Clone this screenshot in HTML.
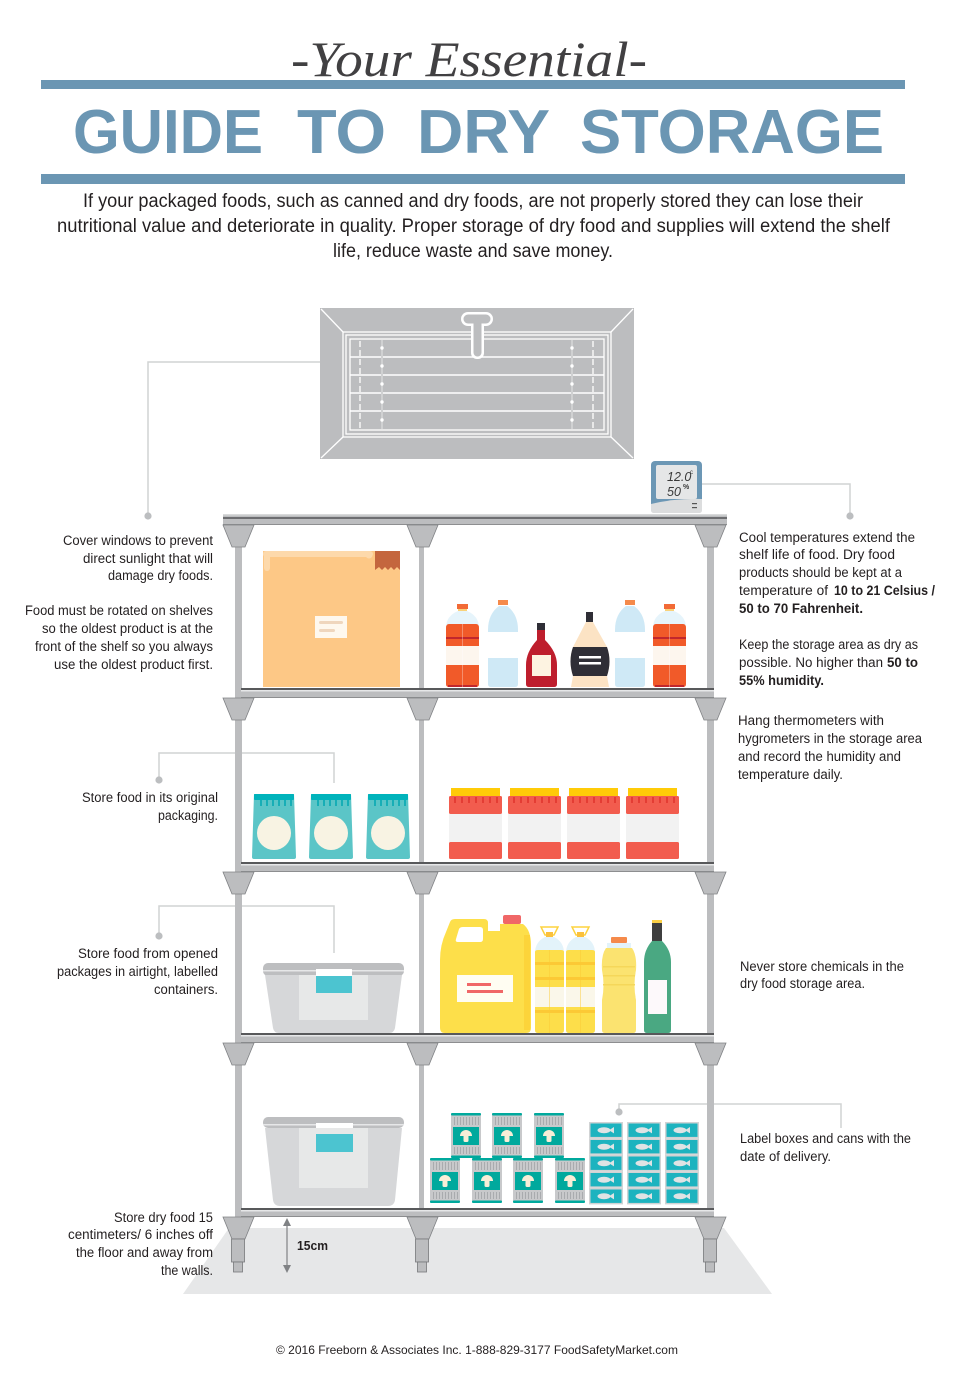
<!DOCTYPE html>
<html><head><meta charset="utf-8">
<style>
html,body{margin:0;padding:0;background:#fff;}
svg{display:block;}
text{font-family:"Liberation Sans",sans-serif;}
</style></head><body>
<svg width="954" height="1386" viewBox="0 0 954 1386" xmlns="http://www.w3.org/2000/svg">
<defs>
 <polygon id="brk" points="0,0 31,0 22,22 9,22" fill="#bcbdbf" stroke="#808285" stroke-width="0.8"/>
 <g id="obottle">
  <rect x="11" y="0" width="11" height="5" fill="#f26a36"/>
  <rect x="12" y="5" width="9" height="2" fill="#f9d27a"/>
  <path d="M12 7 H21 Q33 12 33 24 V80 Q33 83 30 83 H3 Q0 83 0 80 V24 Q0 12 12 7 Z" fill="#e6f4fb"/>
  <path d="M0 24 Q0 20 3 20 H30 Q33 20 33 24 V34 H0 Z" fill="#f15a29"/>
  <rect x="0" y="33" width="33" height="2" fill="#c1272d"/>
  <rect x="0" y="35" width="33" height="7" fill="#f15a29"/>
  <rect x="0" y="42" width="33" height="19" fill="#fdf6ee"/>
  <path d="M0 61 H33 V80 Q33 83 30 83 H3 Q0 83 0 80 Z" fill="#f15a29"/>
  <rect x="2" y="81" width="29" height="2" fill="#c1272d"/>
  <rect x="16" y="20" width="0.8" height="63" fill="#fff" opacity="0.4"/>
 </g>
 <g id="wbottle">
  <rect x="10" y="0" width="10" height="5" fill="#f58a4b"/>
  <path d="M11 6 H19 Q30 14 30 30 V84 Q30 87 27 87 H3 Q0 87 0 84 V30 Q0 14 11 6 Z" fill="#cfe9f6"/>
  <rect x="0" y="32" width="30" height="26" fill="#ffffff"/>
 </g>
 <g id="bag">
  <path d="M2 0 H42 L44 63 Q44 65 42 65 H2 Q0 65 0 63 Z" fill="#5bc5c7"/>
  <rect x="2" y="0" width="40" height="6" rx="1" fill="#00b3bb"/>
  <g fill="#17aeb6"><rect x="8" y="6" width="2" height="6"/><rect x="14" y="6" width="2" height="6"/><rect x="20" y="6" width="2" height="6"/><rect x="26" y="6" width="2" height="6"/><rect x="32" y="6" width="2" height="6"/><rect x="38" y="6" width="2" height="6"/></g>
  <circle cx="22" cy="39" r="17" fill="#f8f3e3"/>
 </g>
 <g id="jar">
  <rect x="2" y="0" width="49" height="8" fill="#ffcb08"/>
  <rect x="0" y="8" width="53" height="18" rx="1.5" fill="#f25c4e"/>
  <g fill="#e43d34"><rect x="5" y="9" width="2" height="6"/><rect x="12" y="9" width="2" height="6"/><rect x="19" y="9" width="2" height="6"/><rect x="26" y="9" width="2" height="6"/><rect x="33" y="9" width="2" height="6"/><rect x="40" y="9" width="2" height="6"/><rect x="47" y="9" width="2" height="6"/></g>
  <rect x="0" y="26" width="53" height="28" fill="#f2f2f2"/>
  <rect x="0" y="54" width="53" height="17" rx="1.5" fill="#f25c4e"/>
 </g>
 <g id="can">
  <rect x="0" y="1" width="30" height="43" fill="#c8c9cb"/>
  <g fill="#a9abae"><rect x="3" y="4" width="1" height="8"/><rect x="6" y="4" width="1" height="8"/><rect x="9" y="4" width="1" height="8"/><rect x="12" y="4" width="1" height="8"/><rect x="15" y="4" width="1" height="8"/><rect x="18" y="4" width="1" height="8"/><rect x="21" y="4" width="1" height="8"/><rect x="24" y="4" width="1" height="8"/><rect x="27" y="4" width="1" height="8"/>
  <rect x="3" y="34" width="1" height="7"/><rect x="6" y="34" width="1" height="7"/><rect x="9" y="34" width="1" height="7"/><rect x="12" y="34" width="1" height="7"/><rect x="15" y="34" width="1" height="7"/><rect x="18" y="34" width="1" height="7"/><rect x="21" y="34" width="1" height="7"/><rect x="24" y="34" width="1" height="7"/><rect x="27" y="34" width="1" height="7"/></g>
  <rect x="0" y="0" width="30" height="2.5" rx="1" fill="#00a99d"/>
  <rect x="0" y="42.5" width="30" height="2.5" rx="1" fill="#00a99d"/>
  <rect x="2" y="14" width="26" height="18" fill="#00a99d"/>
  <path d="M9 23 A6 6 0 0 1 21 23 Z" fill="#f9eed7"/>
  <rect x="12.5" y="22" width="5" height="7" rx="1.5" fill="#f9eed7"/>
 </g>
 <g id="fish">
  <rect width="34" height="16.4" fill="#d1d3d4"/>
  <rect x="1.5" y="1.5" width="31" height="13.4" fill="#1db3bf"/>
  <ellipse cx="15" cy="8.2" rx="6.5" ry="3" fill="#dfe3e4"/>
  <polygon points="20,8.2 25,5 25,11.4" fill="#dfe3e4"/>
 </g>
 <g id="oil">
  <path d="M6 0 H23 L19 8 H10 Z" fill="none" stroke="#fdd33e" stroke-width="1.5"/>
  <rect x="11" y="5" width="7" height="5" fill="#fbc13b"/>
  <path d="M10 10 H19 Q29 15 29 26 V103 Q29 106 26 106 H3 Q0 106 0 103 V26 Q0 15 10 10 Z" fill="#e3f3fa"/>
  <path d="M0 25 Q0 23 3 23 H26 Q29 23 29 25 V103 Q29 106 26 106 H3 Q0 106 0 103 Z" fill="#fdde4a"/>
  <rect x="0" y="35" width="29" height="3" fill="#fcc935"/>
  <rect x="0" y="50" width="29" height="3" fill="#fcc935"/>
  <rect x="0" y="83" width="29" height="3" fill="#fcc935"/>
  <rect x="0" y="60" width="29" height="20" fill="#faf7ea"/>
  <rect x="14" y="23" width="0.8" height="83" fill="#fcc935" opacity="0.6"/>
 </g>
</defs>

<rect width="954" height="1386" fill="#fff"/>

<!-- HEADER -->
<rect x="41" y="80" width="864" height="9" fill="#6b96b3"/>
<rect x="41" y="174" width="864" height="10" fill="#6b96b3"/>
<text x="291" y="76" font-family="Liberation Serif, serif" style="font-family:'Liberation Serif',serif" font-style="italic" font-size="50" fill="#414042" textLength="356" lengthAdjust="spacingAndGlyphs">-Your Essential-</text>
<g font-weight="bold" font-size="62" fill="#6b96b3">
 <text x="73" y="153" textLength="190" lengthAdjust="spacingAndGlyphs">GUIDE</text>
 <text x="297" y="153" textLength="89" lengthAdjust="spacingAndGlyphs">TO</text>
 <text x="417" y="153" textLength="133" lengthAdjust="spacingAndGlyphs">DRY</text>
 <text x="580" y="153" textLength="304" lengthAdjust="spacingAndGlyphs">STORAGE</text>
</g>
<g font-size="19" fill="#231f20">
 <text x="83" y="207" textLength="780" lengthAdjust="spacingAndGlyphs">If your packaged foods, such as canned and dry foods, are not properly stored they can lose their</text>
 <text x="57" y="232" textLength="833" lengthAdjust="spacingAndGlyphs">nutritional value and deteriorate in quality.  Proper storage of dry food and supplies will extend the shelf</text>
 <text x="333" y="257" textLength="280" lengthAdjust="spacingAndGlyphs">life, reduce waste and save money.</text>
</g>

<!-- WINDOW -->
<rect x="320" y="308" width="314" height="151" fill="#bcbdbf"/>
<g stroke="#fff" fill="none" stroke-width="1.3">
 <rect x="343" y="332" width="268" height="105"/>
 <rect x="346" y="335" width="262" height="99"/>
 <line x1="321" y1="309" x2="343" y2="332"/>
 <line x1="633" y1="309" x2="611" y2="332"/>
 <line x1="321" y1="458" x2="343" y2="437"/>
 <line x1="633" y1="458" x2="611" y2="437"/>
 <rect x="350" y="339" width="254" height="91"/>
 <line x1="350" y1="357" x2="604" y2="357" stroke-width="1.6"/>
 <line x1="350" y1="375" x2="604" y2="375" stroke-width="1.6"/>
 <line x1="350" y1="393" x2="604" y2="393" stroke-width="1.6"/>
 <line x1="350" y1="411" x2="604" y2="411" stroke-width="1.6"/>
 <line x1="360" y1="341" x2="360" y2="429" stroke-dasharray="6 3"/>
 <line x1="593" y1="341" x2="593" y2="429" stroke-dasharray="6 3"/>
</g>
<g stroke="#d0d1d2" stroke-width="2"><line x1="382" y1="340" x2="382" y2="429"/><line x1="572" y1="340" x2="572" y2="429"/></g>
<g fill="#fff">
 <circle cx="382" cy="348" r="1.7"/><circle cx="382" cy="366" r="1.7"/><circle cx="382" cy="384" r="1.7"/><circle cx="382" cy="402" r="1.7"/><circle cx="382" cy="420" r="1.7"/>
 <circle cx="572" cy="348" r="1.7"/><circle cx="572" cy="366" r="1.7"/><circle cx="572" cy="384" r="1.7"/><circle cx="572" cy="402" r="1.7"/><circle cx="572" cy="420" r="1.7"/>
</g>
<rect x="461" y="312" width="32" height="14" rx="7" fill="#fff"/>
<rect x="471" y="316" width="13" height="43" rx="6" fill="#fff"/>
<rect x="463.5" y="314.5" width="27" height="9" rx="4.5" fill="#bcbdbf"/>
<rect x="473.5" y="318" width="8" height="38.5" rx="4" fill="#bcbdbf"/>

<!-- FLOOR -->
<polygon points="229,1228 724,1228 772,1294 183,1294" fill="#e6e7e8"/>

<!-- CONNECTORS -->
<g stroke="#d1d3d4" stroke-width="1.5" fill="none">
 <polyline points="320,362 148,362 148,516"/>
 <polyline points="702,484 850,484 850,516"/>
 <polyline points="159,780 159,753 334,753 334,783"/>
 <polyline points="159,936 159,906 334,906 334,953"/>
 <polyline points="619,1112 619,1104 841,1104 841,1128"/>
</g>
<g fill="#bcbec0">
 <circle cx="148" cy="516" r="3.6"/><circle cx="850" cy="516" r="3.6"/>
 <circle cx="159" cy="780" r="3.6"/><circle cx="159" cy="936" r="3.6"/>
 <circle cx="619" cy="1112" r="3.6"/>
</g>

<!-- POSTS -->
<rect x="235" y="520" width="7" height="720" fill="#bcbdbf"/>
<rect x="419" y="520" width="5" height="720" fill="#bcbdbf"/>
<rect x="707" y="520" width="7" height="720" fill="#bcbdbf"/>

<!-- BARS -->
<rect x="223" y="514" width="504" height="11" fill="#bcbdbf"/>
<rect x="223" y="514" width="504" height="1.5" fill="#d9dadb"/>
<rect x="223" y="517" width="504" height="2" fill="#6d6e71"/>
<rect x="223" y="524" width="504" height="1" fill="#8d8e90"/>
<g>
 <rect x="241" y="688" width="473" height="10" fill="#bcbdbf"/><rect x="241" y="688" width="473" height="2" fill="#58595b"/><rect x="241" y="690" width="473" height="1.5" fill="#e6e7e8"/><rect x="241" y="697" width="473" height="1" fill="#8d8e90"/>
 <rect x="241" y="862" width="473" height="10" fill="#bcbdbf"/><rect x="241" y="862" width="473" height="2" fill="#58595b"/><rect x="241" y="864" width="473" height="1.5" fill="#e6e7e8"/><rect x="241" y="871" width="473" height="1" fill="#8d8e90"/>
 <rect x="241" y="1033" width="473" height="10" fill="#bcbdbf"/><rect x="241" y="1033" width="473" height="2" fill="#58595b"/><rect x="241" y="1035" width="473" height="1.5" fill="#e6e7e8"/><rect x="241" y="1042" width="473" height="1" fill="#8d8e90"/>
 <rect x="241" y="1208" width="473" height="9" fill="#bcbdbf"/><rect x="241" y="1208" width="473" height="2" fill="#58595b"/><rect x="241" y="1210" width="473" height="1.5" fill="#e6e7e8"/><rect x="241" y="1216" width="473" height="1" fill="#8d8e90"/>
</g>

<!-- BRACKETS -->
<use href="#brk" x="223" y="525"/><use href="#brk" x="407" y="525"/><use href="#brk" x="695" y="525"/>
<use href="#brk" x="223" y="698"/><use href="#brk" x="407" y="698"/><use href="#brk" x="695" y="698"/>
<use href="#brk" x="223" y="872"/><use href="#brk" x="407" y="872"/><use href="#brk" x="695" y="872"/>
<use href="#brk" x="223" y="1043"/><use href="#brk" x="407" y="1043"/><use href="#brk" x="695" y="1043"/>
<use href="#brk" x="223" y="1217"/><use href="#brk" x="407" y="1217"/><use href="#brk" x="695" y="1217"/>

<!-- LEGS -->
<g fill="#bcbdbf" stroke="#77787b" stroke-width="0.8">
 <rect x="231.5" y="1239" width="13" height="23"/><rect x="233.5" y="1262" width="9" height="10"/>
 <rect x="415.5" y="1239" width="13" height="23"/><rect x="417.5" y="1262" width="9" height="10"/>
 <rect x="703.5" y="1239" width="13" height="23"/><rect x="705.5" y="1262" width="9" height="10"/>
</g>

<!-- ARROW 15cm -->
<line x1="287" y1="1223" x2="287" y2="1268" stroke="#808285" stroke-width="1.2"/>
<polygon points="283,1226 287,1218 291,1226" fill="#808285"/>
<polygon points="283,1265 287,1273 291,1265" fill="#808285"/>
<text x="297" y="1250" font-size="12.5" font-weight="bold" fill="#231f20" textLength="31" lengthAdjust="spacingAndGlyphs">15cm</text>

<!-- THERMOMETER -->
<rect x="651" y="461" width="51" height="52" rx="4" fill="#6c97b5"/>
<rect x="656" y="465" width="41" height="34" rx="2" fill="#e5e6e7"/>
<path d="M651 504 Q676 498 702 499 V510 Q702 513 699 513 H654 Q651 513 651 510 Z" fill="#dcddde"/>
<rect x="692" y="503" width="5" height="1.2" fill="#555"/><rect x="692" y="507" width="5" height="1.2" fill="#555"/>
<text x="667" y="481" font-size="12.5" font-style="italic" fill="#3a3a3a">12.0</text>
<text x="690" y="474" font-size="6" fill="#3a3a3a">c</text>
<text x="667" y="496" font-size="12.5" font-style="italic" fill="#3a3a3a">50</text>
<text x="683" y="489" font-size="7" font-weight="bold" fill="#3a3a3a">%</text>

<!-- SHELF 1 ITEMS -->
<rect x="263" y="551" width="137" height="136" fill="#fdc886"/>
<rect x="263" y="551" width="110" height="6" rx="3" fill="#fdd9ab"/>
<rect x="264" y="551" width="6" height="20" rx="3" fill="#fdd9ab"/>
<circle cx="369" cy="555" r="3.5" fill="#fdd9ab"/>
<path d="M375 551 H400 V570 L397 567 L394 570 L391 567 L388 570 L385 567 L382 570 L379 567 L375 570 Z" fill="#c4663e"/>
<rect x="315" y="616" width="32" height="22" fill="#fef8ee"/>
<rect x="319" y="621" width="24" height="3" rx="1.5" fill="#efd6bd"/>
<rect x="319" y="629" width="16" height="3" rx="1.5" fill="#efd6bd"/>

<use href="#obottle" x="446" y="604"/>
<use href="#wbottle" x="488" y="600"/>
<rect x="537" y="623" width="8" height="7" fill="#2f2e36"/>
<rect x="537" y="630" width="8" height="12" fill="#be1e2d"/>
<path d="M537 640 Q526 652 526 665 V684 Q526 687 529 687 H554 Q557 687 557 684 V665 Q557 652 545 640 Z" fill="#be1e2d"/>
<rect x="532" y="655" width="19" height="21" fill="#fdf3e1"/>
<rect x="586" y="612" width="7" height="10" fill="#2f2e36"/>
<path d="M586 622 H593 L607 647 Q612 661 607 676 L609 687 H571 L573 676 Q568 661 573 647 Z" fill="#fce3c4"/>
<path d="M573 647 H607 Q612 661 607 676 H573 Q568 661 573 647 Z" fill="#2f2e36"/>
<rect x="579" y="656" width="22" height="2.5" fill="#fff"/>
<rect x="579" y="662" width="22" height="2.5" fill="#fff"/>
<use href="#wbottle" x="615" y="600"/>
<use href="#obottle" x="653" y="604"/>

<!-- SHELF 2 ITEMS -->
<use href="#bag" x="252" y="794"/><use href="#bag" x="309" y="794"/><use href="#bag" x="366" y="794"/>
<use href="#jar" x="449" y="788"/><use href="#jar" x="508" y="788"/><use href="#jar" x="567" y="788"/><use href="#jar" x="626" y="788"/>

<!-- SHELF 3 ITEMS -->
<rect x="263" y="963" width="141" height="13" rx="5" fill="#bdbec0"/>
<rect x="263" y="970" width="141" height="1.5" fill="#e6e7e8"/>
<path d="M265 975 H402 L395 1028 Q394 1033 389 1033 H279 Q274 1033 273 1028 Z" fill="#d6d7d9"/>
<rect x="299" y="975" width="69" height="45" fill="#e7e8e8"/>
<rect x="316" y="969" width="36" height="7" fill="#fff"/>
<rect x="316" y="976" width="36" height="17" fill="#4cc4d0"/>

<path d="M440 1028 V960 Q440 945 446 932 L450 922 Q451 919 455 919 H484 Q488 919 488 923 V931 H500 V924 H523 Q531 930 531 945 V1028 Q531 1033 526 1033 H445 Q440 1033 440 1028 Z" fill="#fddf4a"/>
<rect x="524" y="935" width="6" height="95" fill="#fcd43a"/>
<path d="M459 929 Q460 927 463 927 H480 Q483 927 483 930 V939 Q483 942 480 942 H458 Q455 942 456 939 Z" fill="#fff"/>
<rect x="503" y="915" width="18" height="9" rx="2" fill="#f06767"/>
<rect x="457" y="975" width="56" height="27" fill="#fffdf2"/>
<rect x="467" y="983" width="24" height="3" fill="#f06767"/>
<rect x="467" y="990" width="36" height="3" fill="#f06767"/>

<use href="#oil" x="535" y="927"/><use href="#oil" x="566" y="927"/>

<rect x="611" y="937" width="16" height="6" rx="1" fill="#f58a4b"/>
<rect x="607" y="943" width="24" height="7" fill="#e3f3fa"/>
<path d="M606 948 H632 Q637 955 636 970 Q633 985 636 1000 V1030 Q636 1033 633 1033 H605 Q602 1033 602 1030 V1000 Q605 985 602 970 Q601 955 606 948 Z" fill="#fbe370"/>
<g fill="#f5d75a"><rect x="603" y="966" width="32" height="1.5"/><rect x="603" y="975" width="32" height="1.5"/><rect x="603" y="984" width="32" height="1.5"/></g>

<rect x="652" y="920" width="10" height="21" fill="#3f3f3f"/>
<rect x="652" y="920" width="10" height="3" fill="#fbd046"/>
<path d="M652 941 H662 Q671 950 671 962 V1030 Q671 1033 668 1033 H647 Q644 1033 644 1030 V962 Q644 950 652 941 Z" fill="#4aa882"/>
<rect x="648" y="980" width="19" height="34" fill="#fdf9fb"/>

<!-- SHELF 4 ITEMS -->
<rect x="263" y="1117" width="141" height="11" rx="5" fill="#bdbec0"/>
<rect x="263" y="1124" width="141" height="1.5" fill="#e6e7e8"/>
<path d="M265 1128 H402 L395 1200 Q394 1206 388 1206 H280 Q274 1206 273 1200 Z" fill="#d6d7d9"/>
<rect x="299" y="1128" width="69" height="60" fill="#e7e8e8"/>
<rect x="316" y="1123" width="37" height="5" fill="#fff"/>
<rect x="316" y="1134" width="37" height="18" fill="#4cc4d0"/>

<use href="#can" x="451" y="1113"/><use href="#can" x="492" y="1113"/><use href="#can" x="534" y="1113"/>
<use href="#can" x="430" y="1158"/><use href="#can" x="472" y="1158"/><use href="#can" x="513" y="1158"/><use href="#can" x="555" y="1158"/>

<use href="#fish" x="589" y="1122"/><use href="#fish" x="627" y="1122"/><use href="#fish" x="665" y="1122"/>
<use href="#fish" x="589" y="1138.5"/><use href="#fish" x="627" y="1138.5"/><use href="#fish" x="665" y="1138.5"/>
<use href="#fish" x="589" y="1155"/><use href="#fish" x="627" y="1155"/><use href="#fish" x="665" y="1155"/>
<use href="#fish" x="589" y="1171.5"/><use href="#fish" x="627" y="1171.5"/><use href="#fish" x="665" y="1171.5"/>
<use href="#fish" x="589" y="1188"/><use href="#fish" x="627" y="1188"/><use href="#fish" x="665" y="1188"/>

<!-- TEXT BLOCKS -->
<g font-size="13.5" fill="#231f20">
 <text x="63" y="545" textLength="150" lengthAdjust="spacingAndGlyphs">Cover windows to prevent</text>
 <text x="83" y="563" textLength="130" lengthAdjust="spacingAndGlyphs">direct sunlight that will</text>
 <text x="108" y="580" textLength="105" lengthAdjust="spacingAndGlyphs">damage dry foods.</text>
 <text x="25" y="615" textLength="188" lengthAdjust="spacingAndGlyphs">Food must be rotated on shelves</text>
 <text x="42" y="633" textLength="171" lengthAdjust="spacingAndGlyphs">so the oldest product is at the</text>
 <text x="35" y="651" textLength="178" lengthAdjust="spacingAndGlyphs">front of the shelf so you always</text>
 <text x="54" y="669" textLength="159" lengthAdjust="spacingAndGlyphs">use the oldest product first.</text>

 <text x="82" y="802" textLength="136" lengthAdjust="spacingAndGlyphs">Store food in its original</text>
 <text x="158" y="820" textLength="60" lengthAdjust="spacingAndGlyphs">packaging.</text>
 <text x="78" y="958" textLength="140" lengthAdjust="spacingAndGlyphs">Store food from opened</text>
 <text x="57" y="976" textLength="161" lengthAdjust="spacingAndGlyphs">packages in airtight, labelled</text>
 <text x="154" y="994" textLength="64" lengthAdjust="spacingAndGlyphs">containers.</text>

 <text x="114" y="1222" textLength="99" lengthAdjust="spacingAndGlyphs">Store dry food 15</text>
 <text x="68" y="1239" textLength="145" lengthAdjust="spacingAndGlyphs">centimeters/ 6 inches off</text>
 <text x="76" y="1257" textLength="137" lengthAdjust="spacingAndGlyphs">the floor and away from</text>
 <text x="161" y="1275" textLength="52" lengthAdjust="spacingAndGlyphs">the walls.</text>

 <text x="739" y="542" textLength="176" lengthAdjust="spacingAndGlyphs">Cool temperatures extend the</text>
 <text x="739" y="559" textLength="156" lengthAdjust="spacingAndGlyphs">shelf life of food.  Dry food</text>
 <text x="739" y="577" textLength="163" lengthAdjust="spacingAndGlyphs">products should be kept at a</text>
 <text x="739" y="595" textLength="89" lengthAdjust="spacingAndGlyphs">temperature of</text>
 <text x="834" y="595" textLength="101" lengthAdjust="spacingAndGlyphs" font-weight="bold">10 to 21 Celsius /</text>
 <text x="739" y="613" textLength="124" lengthAdjust="spacingAndGlyphs" font-weight="bold">50 to 70 Fahrenheit.</text>
 <text x="739" y="649" textLength="179" lengthAdjust="spacingAndGlyphs">Keep the storage area as dry as</text>
 <text x="739" y="667" textLength="144" lengthAdjust="spacingAndGlyphs">possible.  No higher than</text>
 <text x="887" y="667" textLength="31" lengthAdjust="spacingAndGlyphs" font-weight="bold">50 to</text>
 <text x="739" y="685" textLength="85" lengthAdjust="spacingAndGlyphs" font-weight="bold">55% humidity.</text>
 <text x="738" y="725" textLength="146" lengthAdjust="spacingAndGlyphs">Hang thermometers with</text>
 <text x="738" y="743" textLength="184" lengthAdjust="spacingAndGlyphs">hygrometers in the storage area</text>
 <text x="738" y="761" textLength="163" lengthAdjust="spacingAndGlyphs">and record the humidity and</text>
 <text x="738" y="779" textLength="105" lengthAdjust="spacingAndGlyphs">temperature daily.</text>

 <text x="740" y="971" textLength="164" lengthAdjust="spacingAndGlyphs">Never store chemicals in the</text>
 <text x="740" y="988" textLength="125" lengthAdjust="spacingAndGlyphs">dry food storage area.</text>
 <text x="740" y="1143" textLength="171" lengthAdjust="spacingAndGlyphs">Label boxes and cans with the</text>
 <text x="740" y="1161" textLength="91" lengthAdjust="spacingAndGlyphs">date of delivery.</text>
</g>

<text x="276" y="1354" font-size="12" fill="#231f20" textLength="402" lengthAdjust="spacingAndGlyphs">© 2016 Freeborn &amp; Associates Inc. 1-888-829-3177 FoodSafetyMarket.com</text>
</svg>
</body></html>
